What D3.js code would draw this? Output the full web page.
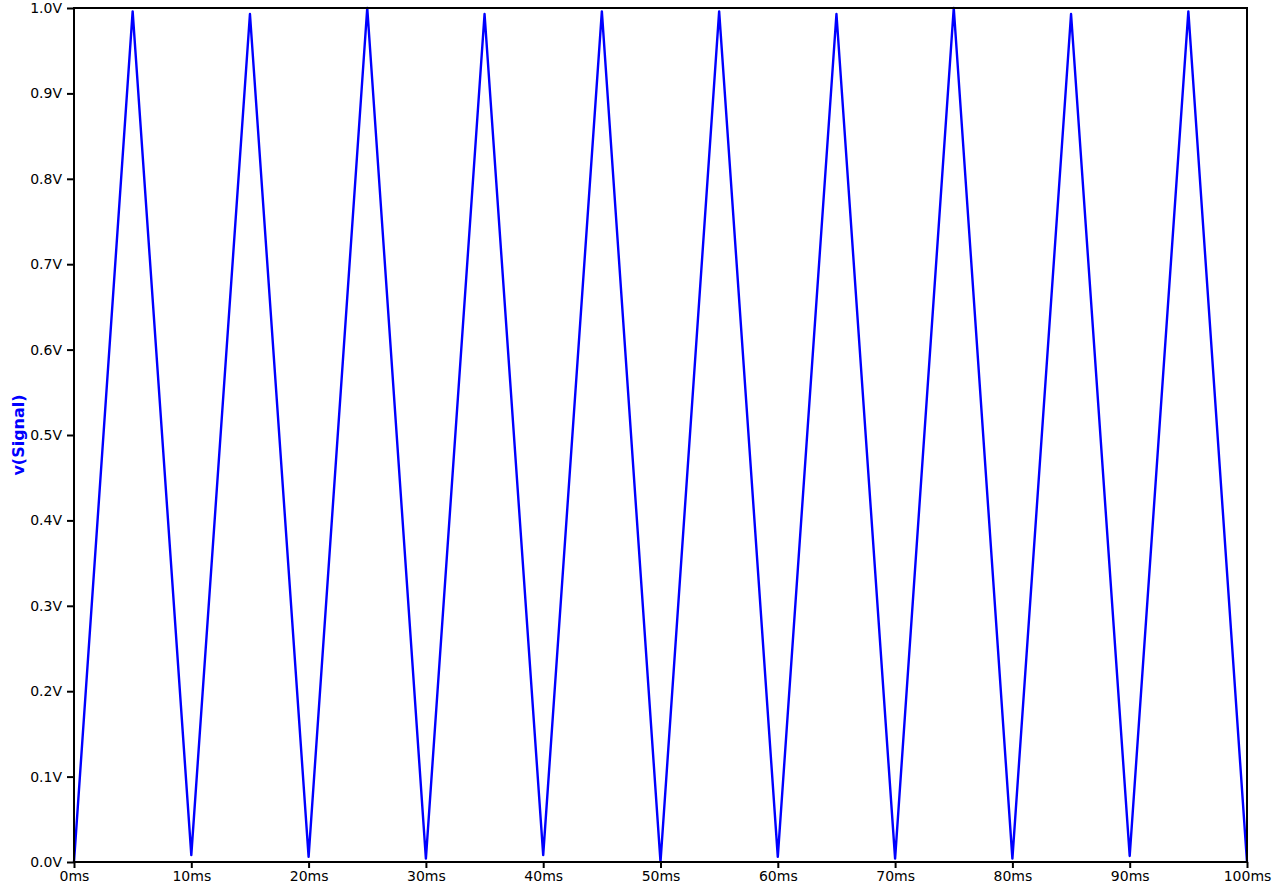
<!DOCTYPE html>
<html>
<head>
<meta charset="utf-8">
<script src="https://cdn.jsdelivr.net/npm/d3@7"></script>
<style>
  body { margin: 0; background: #fff; }
  svg { display: block; }
  .tick text { font-family: "DejaVu Sans", sans-serif; font-size: 14px; fill: #000; }
</style>
</head>
<body>
<div id="chart"></div>
<script>
// simulation time points (ms) and v(Signal) values (V)
var timeMs = [0, 5, 10, 15, 20, 25, 30, 35, 40, 45, 50, 55, 60, 65, 70, 75, 80, 85, 90, 95, 100];
var signalV = [0, 0.996, 0.008, 0.993, 0.006, 1.0, 0.004, 0.993, 0.008, 0.996, 0,
               0.996, 0.006, 0.993, 0.004, 1.0, 0.004, 0.993, 0.007, 0.996, 0];
var xTicks = [0, 10, 20, 30, 40, 50, 60, 70, 80, 90, 100];
var yTicks = [0, 0.1, 0.2, 0.3, 0.4, 0.5, 0.6, 0.7, 0.8, 0.9, 1.0];

var width = 1274, height = 890;
var margin = {top: 8, right: 27, bottom: 28, left: 74};

var svg = d3.select("#chart").append("svg")
    .attr("width", width)
    .attr("height", height);

var x = d3.scaleLinear()
    .domain([0, 100])
    .range([margin.left, width - margin.right]);
var y = d3.scaleLinear()
    .domain([0, 1])
    .range([height - margin.bottom, margin.top]);

// trace
var line = d3.line()
    .x(function(d, i) { return x(timeMs[i]); })
    .y(function(d) { return y(d); });

svg.append("path")
    .datum(signalV)
    .attr("d", line)
    .attr("fill", "none")
    .attr("stroke", "#0000ff")
    .attr("stroke-width", 2.4)
    .attr("stroke-linejoin", "round");

// axes
var xAxis = svg.append("g")
    .attr("transform", "translate(0," + y(0) + ")")
    .call(d3.axisBottom(x).tickValues(xTicks).tickSize(6).tickPadding(3)
        .tickFormat(function(d) { return d + "ms"; }));
var yAxis = svg.append("g")
    .attr("transform", "translate(" + x(0) + ",0)")
    .call(d3.axisLeft(y).tickValues(yTicks).tickSize(7).tickPadding(5)
        .tickFormat(function(d) { return d3.format(".1f")(d) + "V"; }));

[xAxis, yAxis].forEach(function(g) {
    g.select(".domain").remove();
    g.selectAll(".tick line").attr("stroke", "#000").attr("stroke-width", 2);
});

// frame
svg.append("rect")
    .attr("x", x(0))
    .attr("y", y(1))
    .attr("width", x(100) - x(0))
    .attr("height", y(0) - y(1))
    .attr("fill", "none")
    .attr("stroke", "#000")
    .attr("stroke-width", 2);

// y label
svg.append("text")
    .attr("transform", "translate(24," + ((y(0) + y(1)) / 2) + ") rotate(-90)")
    .attr("text-anchor", "middle")
    .style("font-family", "DejaVu Sans, sans-serif")
    .style("font-size", "16px")
    .style("font-weight", "bold")
    .attr("fill", "#0000ff")
    .text("v(Signal)");
</script>
</body>
</html>
